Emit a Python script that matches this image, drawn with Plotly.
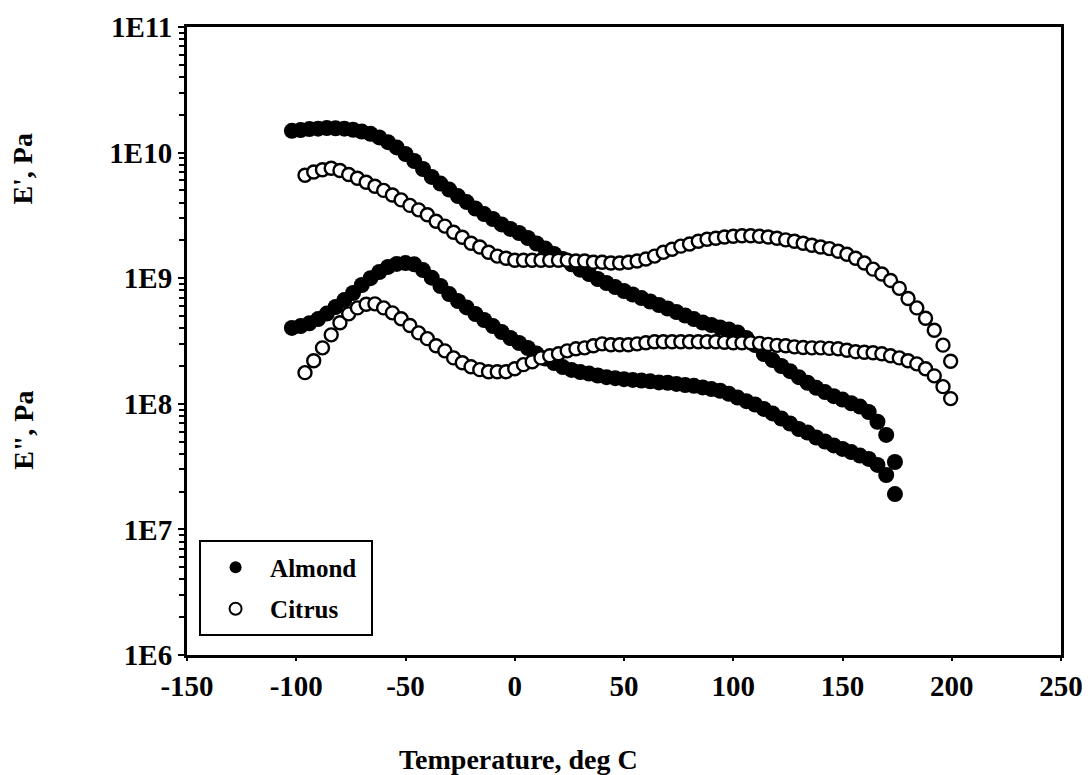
import plotly.graph_objects as go

# ---------------- data ----------------
almond_T = [-102, -98, -94, -90, -86, -82, -78, -74, -70, -66,
            -62, -58, -54, -50, -46, -42, -38, -34, -30, -26,
            -22, -18, -14, -10, -6, -2, 2, 6, 10, 14,
            18, 22, 26, 30, 34, 38, 42, 46, 50, 54,
            58, 62, 66, 70, 74, 78, 82, 86, 90, 94,
            98, 102, 106, 110, 114, 118, 122, 126, 130, 134,
            138, 142, 146, 150, 154, 158, 162, 166, 170, 174]

almond_Eprime = [1.49e10, 1.51e10, 1.54e10, 1.55e10, 1.57e10, 1.56e10, 1.55e10, 1.52e10, 1.47e10, 1.41e10,
                 1.32e10, 1.21e10, 1.10e10, 9.75e9, 8.57e9, 7.4e9, 6.4e9, 5.67e9, 5.08e9, 4.51e9,
                 4.04e9, 3.59e9, 3.24e9, 2.96e9, 2.68e9, 2.47e9, 2.29e9, 2.09e9, 1.89e9, 1.72e9,
                 1.56e9, 1.42e9, 1.29e9, 1.17e9, 1.08e9, 9.86e8, 9.16e8, 8.5e8, 7.91e8, 7.42e8,
                 6.95e8, 6.52e8, 6.12e8, 5.74e8, 5.38e8, 5.05e8, 4.73e8, 4.44e8, 4.24e8, 4.05e8,
                 3.91e8, 3.70e8, 3.34e8, 2.94e8, 2.49e8, 2.23e8, 2.0e8, 1.82e8, 1.63e8, 1.47e8,
                 1.34e8, 1.24e8, 1.15e8, 1.08e8, 1.01e8, 9.5e7, 8.6e7, 7.2e7, 5.65e7, 3.44e7]

almond_Edouble = [4.02e8, 4.16e8, 4.37e8, 4.73e8, 5.23e8, 5.9e8, 6.7e8, 7.62e8, 8.83e8, 1.0e9,
                  1.12e9, 1.23e9, 1.30e9, 1.32e9, 1.29e9, 1.16e9, 1.01e9, 8.67e8, 7.48e8, 6.58e8,
                  5.85e8, 5.19e8, 4.65e8, 4.16e8, 3.73e8, 3.34e8, 3.05e8, 2.78e8, 2.51e8, 2.29e8,
                  2.11e8, 1.96e8, 1.86e8, 1.79e8, 1.74e8, 1.68e8, 1.63e8, 1.60e8, 1.57e8, 1.55e8,
                  1.53e8, 1.51e8, 1.48e8, 1.47e8, 1.44e8, 1.41e8, 1.39e8, 1.35e8, 1.31e8, 1.27e8,
                  1.20e8, 1.12e8, 1.05e8, 9.87e7, 9.1e7, 8.38e7, 7.64e7, 6.97e7, 6.3e7, 5.91e7,
                  5.39e7, 5.01e7, 4.66e7, 4.37e7, 4.13e7, 3.87e7, 3.64e7, 3.26e7, 2.71e7, 1.91e7]

citrus_T = [-96, -92, -88, -84, -80, -76, -72, -68, -64, -60,
            -56, -52, -48, -44, -40, -36, -32, -28, -24, -20,
            -16, -12, -8, -4, 0, 4, 8, 12, 16, 20,
            24, 28, 32, 36, 40, 44, 48, 52, 56, 60,
            64, 68, 72, 76, 80, 84, 88, 92, 96, 100,
            104, 108, 112, 116, 120, 124, 128, 132, 136, 140,
            144, 148, 152, 156, 160, 164, 168, 172, 176, 180,
            184, 188, 192, 196, 199.5]

citrus_Eprime = [6.6e9, 7.0e9, 7.3e9, 7.5e9, 7.2e9, 6.7e9, 6.25e9, 5.8e9, 5.4e9, 5.0e9,
                 4.6e9, 4.2e9, 3.8e9, 3.5e9, 3.2e9, 2.84e9, 2.6e9, 2.32e9, 2.12e9, 1.9e9,
                 1.77e9, 1.61e9, 1.5e9, 1.44e9, 1.39e9, 1.39e9, 1.39e9, 1.39e9, 1.39e9, 1.39e9,
                 1.39e9, 1.37e9, 1.37e9, 1.34e9, 1.34e9, 1.32e9, 1.32e9, 1.34e9, 1.37e9, 1.42e9,
                 1.5e9, 1.61e9, 1.70e9, 1.8e9, 1.87e9, 1.97e9, 2.04e9, 2.08e9, 2.13e9, 2.16e9,
                 2.18e9, 2.18e9, 2.16e9, 2.13e9, 2.08e9, 2.02e9, 1.97e9, 1.9e9, 1.83e9, 1.77e9,
                 1.72e9, 1.64e9, 1.55e9, 1.44e9, 1.32e9, 1.18e9, 1.08e9, 9.6e8, 8.3e8, 6.9e8,
                 5.8e8, 4.8e8, 3.85e8, 2.93e8, 2.18e8]

citrus_Edouble = [1.77e8, 2.2e8, 2.79e8, 3.54e8, 4.42e8, 5.2e8, 5.8e8, 6.2e8, 6.25e8, 5.8e8,
                  5.3e8, 4.75e8, 4.2e8, 3.67e8, 3.3e8, 2.9e8, 2.64e8, 2.32e8, 2.12e8, 1.97e8,
                  1.87e8, 1.8e8, 1.8e8, 1.8e8, 1.9e8, 2.05e8, 2.16e8, 2.32e8, 2.41e8, 2.5e8,
                  2.64e8, 2.74e8, 2.79e8, 2.9e8, 3.0e8, 2.95e8, 2.95e8, 2.95e8, 3.0e8, 3.06e8,
                  3.12e8, 3.12e8, 3.12e8, 3.12e8, 3.12e8, 3.12e8, 3.12e8, 3.12e8, 3.09e8, 3.06e8,
                  3.06e8, 3.06e8, 3.03e8, 2.97e8, 2.92e8, 2.9e8, 2.84e8, 2.81e8, 2.79e8, 2.79e8,
                  2.76e8, 2.74e8, 2.67e8, 2.6e8, 2.57e8, 2.55e8, 2.5e8, 2.41e8, 2.32e8, 2.2e8,
                  2.08e8, 1.9e8, 1.67e8, 1.37e8, 1.1e8]

x_tickvals = [-150, -100, -50, 0, 50, 100, 150, 200, 250]
x_ticktext = ["-150", "-100", "-50", "0", "50", "100", "150", "200", "250"]
y_tickvals = [1e6, 1e7, 1e8, 1e9, 1e10, 1e11]
y_ticktext = ["1E6", "1E7", "1E8", "1E9", "1E10", "1E11"]

FONT = "Liberation Serif"

# ---------------- figure ----------------
fig = go.Figure()

filled = dict(symbol="circle", size=16, color="black", line=dict(width=0))
opened = dict(symbol="circle", size=13, color="white", line=dict(color="black", width=2.4))

fig.add_trace(go.Scatter(x=almond_T, y=almond_Eprime, mode="markers", marker=filled,
                         name="Almond", legendgroup="a", showlegend=True))
fig.add_trace(go.Scatter(x=almond_T, y=almond_Edouble, mode="markers", marker=filled,
                         name="Almond", legendgroup="a", showlegend=False))
fig.add_trace(go.Scatter(x=citrus_T, y=citrus_Eprime, mode="markers", marker=opened,
                         name="Citrus", legendgroup="c", showlegend=True))
fig.add_trace(go.Scatter(x=citrus_T, y=citrus_Edouble, mode="markers", marker=opened,
                         name="Citrus", legendgroup="c", showlegend=False))

axis_font = dict(family=FONT, size=29, color="black", weight="bold")

fig.update_xaxes(range=[-150, 250], tickmode="array", tickvals=x_tickvals, ticktext=x_ticktext,
                 ticks="outside", ticklen=3, tickwidth=2, tickcolor="black",
                 showline=True, linewidth=3, linecolor="black", mirror=True,
                 showgrid=False, zeroline=False, tickfont=axis_font, automargin=False)

fig.update_yaxes(type="log", range=[6, 11], tickmode="array",
                 tickvals=y_tickvals, ticktext=y_ticktext,
                 ticks="outside", ticklen=6, tickwidth=2, tickcolor="black",
                 minor=dict(ticks="outside", ticklen=5, tickwidth=2, tickcolor="black",
                            dtick="D1", showgrid=False),
                 showline=True, linewidth=3, linecolor="black", mirror=True,
                 showgrid=False, zeroline=False, tickfont=axis_font, automargin=False)

title_font = dict(family=FONT, size=28, color="black", weight="bold")
fig.add_annotation(text="Temperature, deg C", xref="paper", yref="paper",
                   x=0.379, y=-0.167, xanchor="center", yanchor="middle",
                   showarrow=False, font=title_font)
fig.add_annotation(text="E', Pa", xref="paper", yref="paper",
                   x=-0.188, y=0.774, xanchor="center", yanchor="middle",
                   textangle=-90, showarrow=False, font=title_font)
fig.add_annotation(text="E\", Pa", xref="paper", yref="paper",
                   x=-0.188, y=0.358, xanchor="center", yanchor="middle",
                   textangle=-90, showarrow=False, font=title_font)

# legend frame (drawn as a rectangle so its size matches the reference)
fig.add_shape(type="rect", xref="paper", yref="paper",
              x0=(200 - 187) / 874, x1=(372 - 187) / 874,
              y0=(655 - 635) / 628, y1=(655 - 541) / 628,
              line=dict(color="black", width=2), fillcolor="rgba(0,0,0,0)", layer="below")

fig.update_layout(
    width=1091, height=775,
    margin=dict(l=187, r=30, t=27, b=120, autoexpand=False),
    paper_bgcolor="white", plot_bgcolor="white",
    showlegend=True,
    legend=dict(x=0.0161, y=0.176, xanchor="left", yanchor="top",
                bgcolor="rgba(0,0,0,0)", borderwidth=0,
                font=dict(family=FONT, size=25, color="black", weight="bold"),
                tracegroupgap=6, itemsizing="constant", itemwidth=59),
)

# remove the page's default 8px body margin so the figure fills the window exactly
fig.write_html("out.html", config={"displayModeBar": False},
               post_script="document.body.style.margin='0';")
